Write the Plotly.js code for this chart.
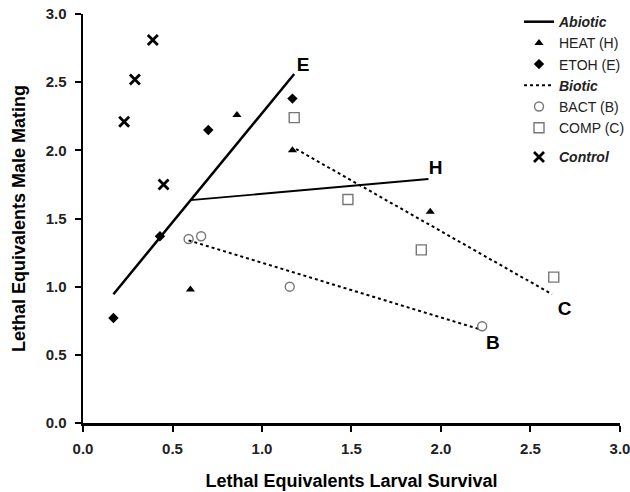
<!DOCTYPE html>
<html><head><meta charset="utf-8">
<script src="https://cdn.plot.ly/plotly-3.0.1.min.js"></script>
<style>body{margin:0;background:#fff}#c{width:630px;height:492px}</style>
</head><body><div id="c"></div>
<script>
// Data
const heatX = [0.86, 1.17, 1.94, 0.60];
const heatY = [2.26, 2.00, 1.55, 0.98];
const etohX = [0.70, 1.17, 0.43, 0.17];
const etohY = [2.15, 2.38, 1.37, 0.77];
const bactX = [0.59, 0.66, 1.155, 2.23];
const bactY = [1.35, 1.37, 1.00, 0.71];
const compX = [1.18, 1.48, 1.89, 2.63];
const compY = [2.24, 1.64, 1.27, 1.07];
const ctrlX = [0.39, 0.29, 0.23, 0.45];
const ctrlY = [2.81, 2.52, 2.21, 1.75];
// Fitted lines (endpoints)
const fitEX = [0.17, 1.18]; const fitEY = [0.945, 2.56];
const fitHX = [0.60, 1.93]; const fitHY = [1.635, 1.79];
const fitBX = [0.59, 2.21]; const fitBY = [1.34, 0.69];
const fitCX = [1.19, 2.62]; const fitCY = [2.01, 0.945];
// Line labels
const lblText = ['E', 'H', 'B', 'C'];
const lblX = [1.23, 1.97, 2.29, 2.69];
const lblY = [2.62, 1.86, 0.58, 0.83];

const font = 'Arial, "Liberation Sans", Helvetica, sans-serif';
const traces = [
  {x: fitEX, y: fitEY, mode: 'lines', name: '<b><i>Abiotic</i></b>', legendgroup: 'a',
   line: {color: '#000', width: 2.5}},
  {x: fitHX, y: fitHY, mode: 'lines', showlegend: false, legendgroup: 'a',
   line: {color: '#000', width: 1.8}},
  {x: heatX, y: heatY, mode: 'markers', name: 'HEAT (H)', legendgroup: 'a',
   marker: {symbol: 'triangle-up', size: 8, color: '#000'}},
  {x: etohX, y: etohY, mode: 'markers', name: 'ETOH (E)', legendgroup: 'a',
   marker: {symbol: 'diamond', size: 8, color: '#000'}},
  {x: fitBX, y: fitBY, mode: 'lines', name: '<b><i>Biotic</i></b>', legendgroup: 'a',
   line: {color: '#000', width: 2, dash: 'dot'}},
  {x: fitCX, y: fitCY, mode: 'lines', showlegend: false, legendgroup: 'a',
   line: {color: '#000', width: 2, dash: 'dot'}},
  {x: bactX, y: bactY, mode: 'markers', name: 'BACT (B)', legendgroup: 'a',
   marker: {symbol: 'circle-open', size: 9, color: '#777', line: {width: 1.4}}},
  {x: compX, y: compY, mode: 'markers', name: 'COMP (C)', legendgroup: 'a',
   marker: {symbol: 'square-open', size: 10, color: '#777', line: {width: 1.4}}},
  {x: ctrlX, y: ctrlY, mode: 'markers', name: '<b><i>Control</i></b>', legendgroup: 'b',
   marker: {symbol: 'x-thin', size: 10, color: '#000', line: {width: 2.8, color: '#000'}}},
  {x: lblX, y: lblY, mode: 'text', text: lblText, showlegend: false, hoverinfo: 'skip',
   textfont: {family: font, size: 19, color: '#000', weight: 'bold'}, textposition: 'middle center'}
];

const axisCommon = {
  range: [0, 3], dtick: 0.5, tickformat: '.1f', showgrid: false, zeroline: false,
  showline: true, linecolor: '#000', linewidth: 2.5, ticks: 'outside', ticklen: 6,
  tickwidth: 2, tickcolor: '#000', automargin: false, ticklabeloverflow: 'allow',
  tickfont: {family: font, size: 15, color: '#222', weight: 'bold'}
};

const layout = {
  width: 630, height: 492,
  margin: {l: 83, r: 0, t: 4, b: 69},
  paper_bgcolor: '#fff', plot_bgcolor: '#fff',
  font: {family: font, color: '#000'},
  showlegend: true,
  legend: {x: 1, y: 0.995, xanchor: 'right', yanchor: 'top',
    bgcolor: 'rgba(0,0,0,0)',
    traceorder: 'grouped', tracegroupgap: 8, itemwidth: 30,
    font: {family: font, size: 14, color: '#222'}},
  xaxis: Object.assign({}, axisCommon, {
    domain: [0, 0.9817],
    ticklabelstandoff: 4,
    title: {text: 'Lethal Equivalents Larval Survival', standoff: 19,
      font: {family: font, size: 18, color: '#000', weight: 'bold'}}}),
  yaxis: Object.assign({}, axisCommon, {
    domain: [0, 0.976],
    ticklabelstandoff: 5,
    title: {text: 'Lethal Equivalents Male Mating', standoff: 16,
      font: {family: font, size: 18, color: '#000', weight: 'bold'}}})
};

Plotly.newPlot('c', traces, layout, {staticPlot: true, displayModeBar: false});
</script></body></html>
